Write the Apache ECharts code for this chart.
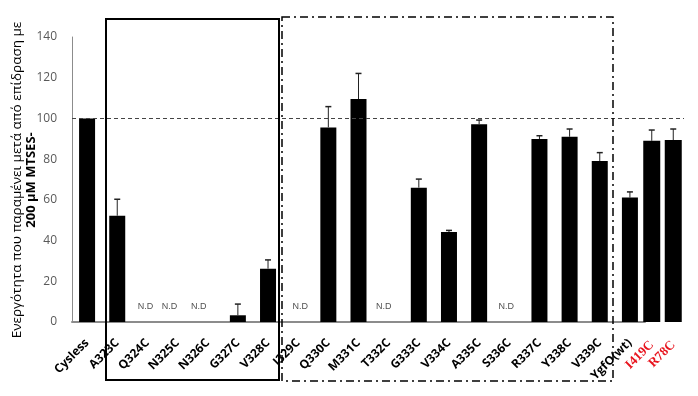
<!DOCTYPE html>
<html><head><meta charset="utf-8">
<script src="https://cdn.jsdelivr.net/npm/echarts@6/dist/echarts.min.js"></script>
<style>html,body{margin:0;padding:0;background:#fff}#c{width:698px;height:396px}</style>
</head><body><div id="c"></div>
<script>
const categories = ['Cysless','A323C','Q324C','N325C','N326C','G327C','V328C','I329C','Q330C','M331C','T332C','G333C','V334C','A335C','S336C','R337C','Y338C','V339C','YgfO(wt)'];
const values = [100, 52.2, null, null, null, 3.3, 26.2, null, 95.6, 109.5, null, 66, 44.2, 97.2, null, 89.9, 91, 79.1, 61.1];
const errors = [null, 8.1, null, null, null, 5.5, 4.3, null, 10.2, 12.6, null, 4.2, 0.8, 2.0, null, 1.6, 3.8, 4.1, 2.8];
const extraCategories = ['I419C','R78C'];
const extraValues = [89.0, 89.4];
const extraErrors = [5.3, 5.4];
const ndCategories = ['Q324C','N325C','N326C','I329C','T332C','S336C'];
const ndLabel = 'N.D';
const referenceValue = 100;
const yTicks = [0,20,40,60,80,100,120,140];
const yTitle1 = 'Ενεργότητα που παραμένει μετά από επίδραση με';
const yTitle2 = '200 μM MTSES-';

const ndOffsets = [-2, -8, -9, 2, -5, -3];

const chart = echarts.init(document.getElementById('c'), null, {renderer:'canvas'});

function errSeries(xi, yi, vals, errs) {
  return {
    type: 'custom', xAxisIndex: xi, yAxisIndex: yi, z: 5, silent: true,
    data: vals.map((v, i) => (v != null && errs[i] != null) ? [i, v, v + errs[i]] : null).filter(d => d),
    renderItem: function (params, api) {
      const p0 = api.coord([api.value(0), api.value(1)]);
      const p1 = api.coord([api.value(0), api.value(2)]);
      const hw = 3;
      return { type: 'group', children: [
        { type: 'line', shape: {x1: p0[0], y1: p0[1], x2: p1[0], y2: p1[1]}, style: {stroke: '#222', lineWidth: 1} },
        { type: 'line', shape: {x1: p1[0]-hw, y1: p1[1], x2: p1[0]+hw, y2: p1[1]}, style: {stroke: '#222', lineWidth: 1.5} }
      ]};
    }
  };
}

const labelFont = {fontFamily: 'Open Sans', fontWeight: 'bold', fontSize: 12, color: '#000'};

const option = {
  animation: false,
  backgroundColor: '#fff',
  grid: [
    {left: 72, top: 37, width: 573, height: 285, containLabel: false},
    {left: 641, top: 37, width: 43, height: 285, containLabel: false}
  ],
  xAxis: [
    {type: 'category', gridIndex: 0, data: categories,
     axisLine: {lineStyle: {color: '#8c8c8c', width: 2}}, axisTick: {show: false},
     axisLabel: Object.assign({rotate: 45, interval: 0, margin: 19}, labelFont)},
    {type: 'category', gridIndex: 1, data: extraCategories,
     axisLine: {show: false}, axisTick: {show: false},
     axisLabel: {rotate: 45, interval: 0, margin: 21, fontFamily: 'Liberation Serif', fontWeight: 'bold', fontSize: 13, color: '#e8141e'}}
  ],
  yAxis: [
    {type: 'value', gridIndex: 0, min: 0, max: 140, interval: 20,
     axisLine: {show: true, lineStyle: {color: '#8c8c8c', width: 1}}, axisTick: {show: false},
     splitLine: {show: false},
     axisLabel: {margin: 15, fontFamily: 'Open Sans', fontSize: 12, color: '#595959',
       formatter: v => yTicks.indexOf(v) >= 0 ? String(v) : ''}},
    {type: 'value', gridIndex: 1, min: 0, max: 140, interval: 20, show: false, splitLine: {show: false}}
  ],
  series: [
    {type: 'bar', xAxisIndex: 0, yAxisIndex: 0, data: values, barWidth: 16,
     itemStyle: {color: '#000'},
     markLine: {silent: true, symbol: 'none', label: {show: false},
       lineStyle: {type: [4, 3], color: '#444', width: 1}, data: [{yAxis: referenceValue}]}},
    {type: 'bar', xAxisIndex: 1, yAxisIndex: 1, data: extraValues, barWidth: 17,
     itemStyle: {color: '#000'},
     markLine: {silent: true, symbol: 'none', label: {show: false},
       lineStyle: {type: [4, 3], color: '#444', width: 1}, data: [{yAxis: referenceValue}]}},
    errSeries(0, 0, values, errors),
    errSeries(1, 1, extraValues, extraErrors),
    {type: 'scatter', xAxisIndex: 0, yAxisIndex: 0, symbolSize: 0, silent: true,
     data: ndCategories.map((c, i) => ({value: [c, 0], label: {offset: [ndOffsets[i], -15]}})),
     label: {show: true, position: 'inside', formatter: ndLabel, fontFamily: 'Liberation Sans', fontSize: 9, color: '#222'}}
  ],
  graphic: [
    {type: 'rect', shape: {x: 106, y: 19, width: 173, height: 361}, style: {fill: 'none', stroke: '#000', lineWidth: 2}, z: 10},
    {type: 'rect', shape: {x: 282, y: 17, width: 331, height: 364}, style: {fill: 'none', stroke: '#000', lineWidth: 1.5, lineDash: [8, 4, 2, 4]}, z: 10},
    {type: 'text', x: 24, y: 180, rotation: Math.PI / 2, z: 10,
     style: {text: '{a|' + yTitle1 + '}\n{b|' + yTitle2 + '}', align: 'center', verticalAlign: 'middle',
       rich: {a: {fontFamily: 'Open Sans', fontSize: 13.5, color: '#111', lineHeight: 14, align: 'center'},
              b: {fontFamily: 'Open Sans', fontSize: 13, fontWeight: 'bold', color: '#111', lineHeight: 14, align: 'center'}}}}
  ]
};
chart.setOption(option);
</script></body></html>
